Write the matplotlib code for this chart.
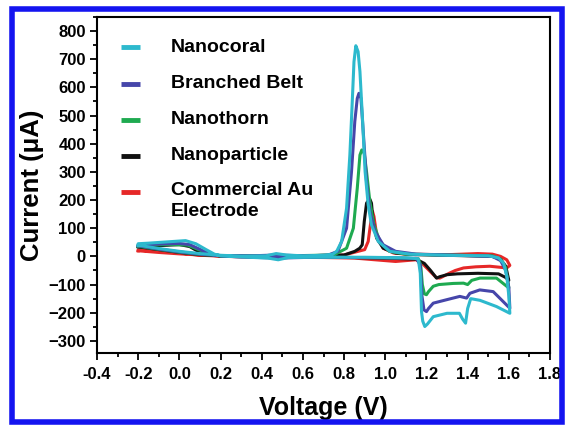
import matplotlib
matplotlib.use("Agg")
from matplotlib import pyplot as plt
from matplotlib.patches import Rectangle
from matplotlib.ticker import MultipleLocator, FormatStrFormatter

plt.rcParams['font.family'] = ['Liberation Sans', 'DejaVu Sans']
plt.rcParams['font.weight'] = 'bold'

# cyclic voltammograms, forward sweep then reverse sweep (V, uA)
coral_v = [-0.20, -0.10, 0.00, 0.10, 0.20, 0.30, 0.42, 0.47, 0.52, 0.60, 0.70, 0.745, 0.764, 0.788,
           0.812, 0.828, 0.839, 0.848, 0.857, 0.868, 0.877, 0.890, 0.902, 0.917, 0.933, 0.966, 1.022,
           1.12, 1.30, 1.50, 1.55, 1.575, 1.59, 1.60, 1.605,
           1.54, 1.46, 1.415, 1.40, 1.39, 1.375, 1.36, 1.30, 1.233, 1.205, 1.192, 1.182, 1.176, 1.170,
           1.16, 1.10, 1.00, 0.90, 0.80, 0.65, 0.53, 0.48, 0.43, 0.30, 0.20, 0.17, 0.13, 0.08, 0.03,
           -0.05, -0.15, -0.20, -0.20]
coral_i = [40, 28, 18, 10, 4, 1, 2, 10, 5, 2, 4, 8, 18, 53,
           171, 360, 538, 691, 748, 727, 656, 479, 301, 183, 112, 53, 18,
           8, 4, 2, -5, -25, -70, -140, -202,
           -178, -156, -150, -185, -237, -222, -202, -202, -214, -240, -249, -230, -196, -60,
           -8, -5, -4, -3, -3, -3, -4, -12, -6, -2, 2, 8, 24, 45, 56,
           52, 47, 45, 40]

belt_v = [-0.20, -0.10, 0.00, 0.10, 0.20, 0.35, 0.47, 0.60, 0.72, 0.77, 0.812, 0.836, 0.852, 0.864,
          0.872, 0.882, 0.893, 0.909, 0.925, 0.95, 0.99, 1.05, 1.15, 1.35, 1.52, 1.56, 1.585, 1.60, 1.605,
          1.524, 1.459, 1.411, 1.395, 1.362, 1.297, 1.233, 1.21, 1.20, 1.188, 1.178, 1.17, 1.15, 1.00,
          0.85, 0.65, 0.48, 0.30, 0.20, 0.15, 0.10, 0.05, 0.00, -0.10, -0.20, -0.20]
belt_i = [38, 26, 16, 8, 3, 2, 5, 2, 4, 18, 100, 301, 479, 561,
          579, 561, 443, 266, 160, 89, 41, 18, 8, 4, 0, -15, -50, -110, -184,
          -125, -119, -131, -148, -142, -154, -166, -185, -196, -190, -140, -30, -7, -5,
          -4, -3, -6, -2, 2, 8, 25, 42, 46, 44, 40, 38]

thorn_v = [-0.20, -0.10, 0.00, 0.10, 0.20, 0.40, 0.60, 0.75, 0.812, 0.845, 0.864, 0.877, 0.886, 0.898,
           0.909, 0.925, 0.945, 0.974, 1.02, 1.10, 1.30, 1.52, 1.56, 1.585, 1.60,
           1.54, 1.46, 1.42, 1.40, 1.38, 1.33, 1.26, 1.233, 1.21, 1.20, 1.19, 1.18, 1.172, 1.16, 1.00,
           0.85, 0.65, 0.40, 0.20, 0.15, 0.10, 0.04, -0.05, -0.15, -0.20, -0.20]
thorn_i = [36, 25, 15, 7, 3, 2, 3, 5, 29, 100, 242, 360, 378, 366,
           301, 195, 112, 53, 18, 8, 5, 2, -10, -40, -112,
           -77, -77, -85, -100, -95, -96, -100, -106, -125, -136, -133, -100, -30, -8, -5,
           -4, -3, -2, 2, 8, 22, 40, 42, 40, 38, 36]

particle_v = [-0.20, -0.10, 0.00, 0.10, 0.20, 0.40, 0.60, 0.80, 0.852, 0.876, 0.888, 0.898, 0.909, 0.924,
              0.933, 0.941, 0.958, 0.99, 1.05, 1.15, 1.35, 1.52, 1.56, 1.585, 1.60,
              1.585, 1.55, 1.45, 1.35, 1.30, 1.265, 1.249, 1.22, 1.19, 1.15, 1.00, 0.85, 0.65, 0.40,
              0.20, 0.14, 0.10, 0.05, 0.00, -0.10, -0.20, -0.20]
particle_i = [34, 24, 14, 6, 2, 1, 2, 5, 18, 29, 41, 124, 189, 205,
              189, 124, 65, 29, 12, 6, 3, 0, -10, -35, -85,
              -75, -62, -60, -62, -65, -72, -77, -50, -25, -10, -6, -4, -3, -2,
              2, 8, 14, 35, 42, 38, 34, 34]

au_v = [-0.20, -0.10, 0.00, 0.10, 0.20, 0.40, 0.60, 0.80, 0.868, 0.90, 0.917, 0.93, 0.938, 0.945,
        0.958, 0.99, 1.04, 1.10, 1.30, 1.45, 1.52, 1.56, 1.59, 1.605,
        1.59, 1.508, 1.44, 1.38, 1.34, 1.313, 1.265, 1.249, 1.22, 1.18, 1.15, 1.10, 1.05, 0.95,
        0.85, 0.70, 0.50, 0.30, 0.10, 0.00, -0.10, -0.20, -0.20]
au_i = [20, 14, 9, 5, 2, 1, 2, 5, 18, 24, 53, 124, 160, 142,
        77, 29, 12, 8, 6, 10, 8, 0, -12, -32,
        -41, -35, -37, -41, -50, -59, -77, -76, -55, -25, -12, -15, -18, -12,
        -6, -4, -3, -2, 4, 12, 18, 22, 20]

labels = ["Nanocoral", "Branched Belt", "Nanothorn", "Nanoparticle", "Commercial Au\nElectrode"]
colors = ["#2db9cd", "#4646aa", "#1eaa50", "#111111", "#e62828"]
series = [(coral_v, coral_i), (belt_v, belt_i), (thorn_v, thorn_i),
          (particle_v, particle_i), (au_v, au_i)]

fig = plt.figure(figsize=(5.65, 4.25), dpi=100)
ax = fig.add_axes([97 / 565, 72 / 425, 453 / 565, 336 / 425])

# draw red first so the nanocoral trace ends up on top
for (v, i), c in reversed(list(zip(series, colors))):
    ax.plot(v, i, color=c, lw=2.2, solid_joinstyle='round')

ax.set_xlim(-0.4, 1.8)
ax.set_ylim(-343, 850)
ax.xaxis.set_major_locator(MultipleLocator(0.2))
ax.xaxis.set_minor_locator(MultipleLocator(0.1))
ax.yaxis.set_major_locator(MultipleLocator(100))
ax.yaxis.set_minor_locator(MultipleLocator(50))
ax.xaxis.set_major_formatter(FormatStrFormatter('%.1f'))
ax.tick_params(which='both', direction='out', width=1.3, labelsize=12, pad=3)
ax.tick_params(axis='x', pad=5)
ax.tick_params(which='major', length=5)
ax.tick_params(which='minor', length=3)
for s in ax.spines.values():
    s.set_linewidth(1.5)

ax.set_xlabel("Voltage (V)", fontsize=18, fontweight='bold', labelpad=10)
ax.set_ylabel("Current (\u03bcA)", fontsize=18.5, fontweight='bold', labelpad=3)

# legend drawn by hand so the two-line label keeps its swatch on the first line
leg_y = [47, 84, 120, 156, 192]
for lab, c, py in zip(labels, colors, leg_y):
    yy = (353 - py) / 336
    ax.plot([(121 - 97) / 453, (140 - 97) / 453], [yy, yy], transform=ax.transAxes,
            color=c, lw=3.5, solid_capstyle='butt')
    if '\n' in lab:
        ax.text((171 - 97) / 453, yy + 0.03, lab, transform=ax.transAxes, fontsize=14,
                fontweight='bold', va='top', linespacing=1.3)
    else:
        ax.text((171 - 97) / 453, yy, lab, transform=ax.transAxes, fontsize=14,
                fontweight='bold', va='center')

fig.patches.append(Rectangle((11.5 / 565, 3 / 425), 550.5 / 565, 413 / 425, transform=fig.transFigure,
                             fill=False, edgecolor='#1414f0', lw=4))

fig.savefig("out.png", dpi=100)
